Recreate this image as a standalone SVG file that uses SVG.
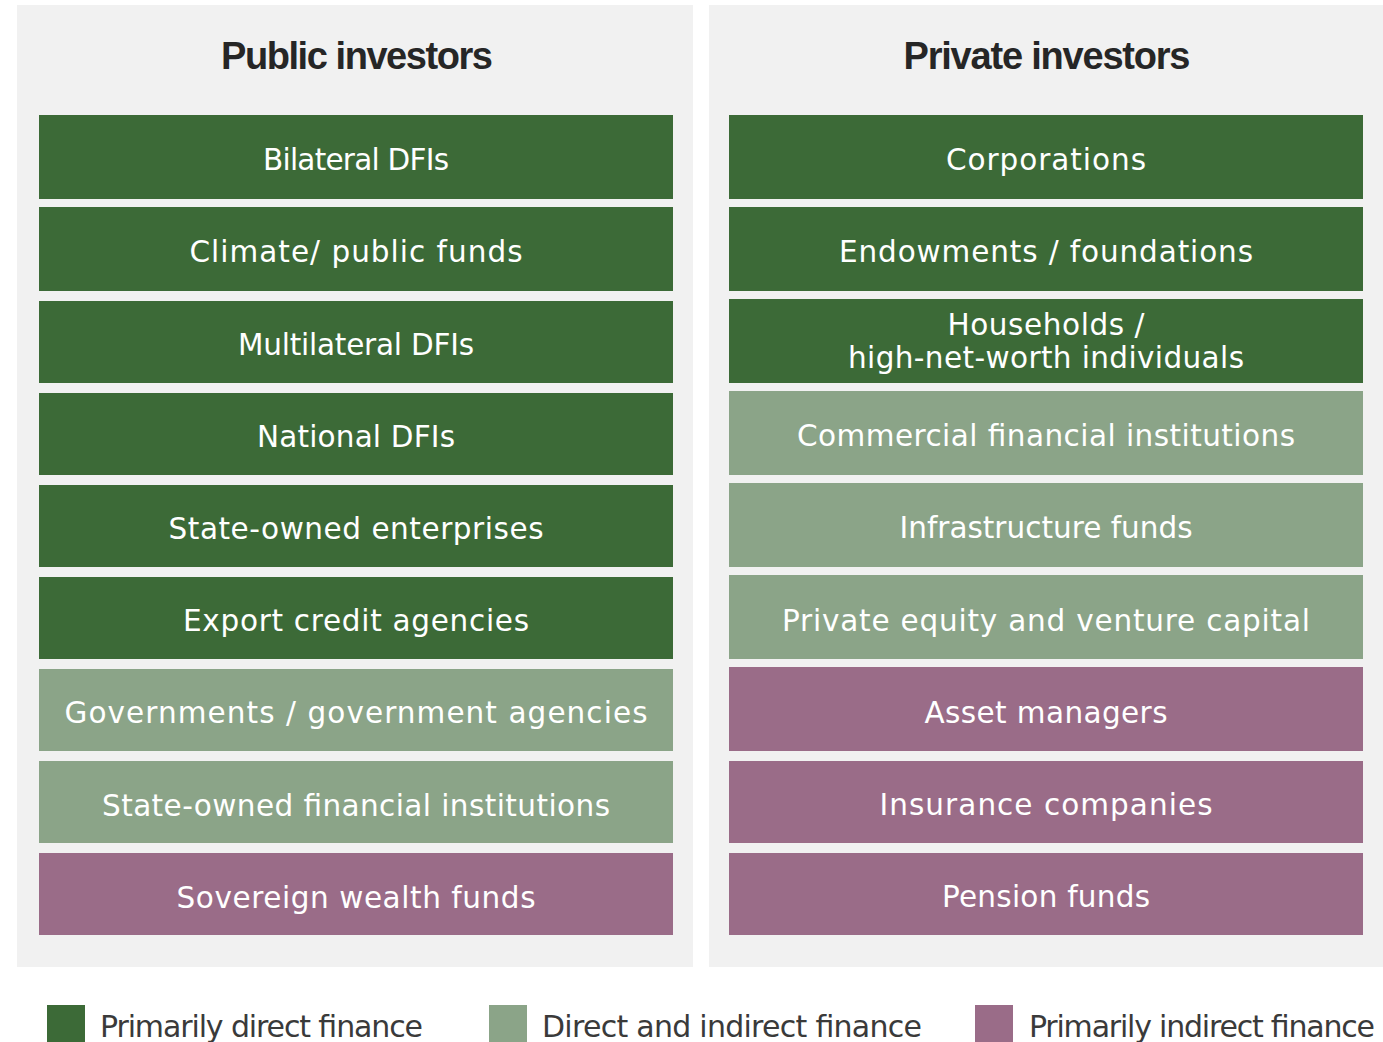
<svg xmlns="http://www.w3.org/2000/svg" width="1383" height="1042" viewBox="0 0 1383 1042">
<style>
.panel{fill:#f1f1f1}
.dg{fill:#3c6a37}
.lg{fill:#8ba488}
.mv{fill:#9a6c88}
.t{font-family:"DejaVu Sans",sans-serif;font-size:29.5px;fill:#ffffff;text-anchor:middle}
.h{font-family:"Liberation Sans",Arial,sans-serif;font-weight:bold;font-size:38px;fill:#262626;text-anchor:middle}
.lt{font-family:"DejaVu Sans",sans-serif;font-size:30px;fill:#3a3a3a}
</style>
<rect width="1383" height="1042" fill="#ffffff"/>
<g id="panel-public">
<rect class="panel" x="17" y="5" width="676" height="962"/>
<text class="h" x="357" y="69" textLength="272" lengthAdjust="spacing">Public investors</text>
</g>
<g id="panel-private">
<rect class="panel" x="709" y="5" width="674" height="962"/>
<text class="h" x="1047" y="69" textLength="287" lengthAdjust="spacing">Private investors</text>
</g>
<g id="connectors"></g>
<g id="n-bilateral"><rect class="dg" x="39" y="115" width="634" height="84"/><text class="t" x="356" y="170" textLength="186" lengthAdjust="spacing">Bilateral DFIs</text></g>
<g id="n-climate"><rect class="dg" x="39" y="207" width="634" height="84"/><text class="t" x="356" y="262" textLength="333" lengthAdjust="spacing">Climate/ public funds</text></g>
<g id="n-multilateral"><rect class="dg" x="39" y="301" width="634" height="82"/><text class="t" x="356" y="355" textLength="236" lengthAdjust="spacing">Multilateral DFIs</text></g>
<g id="n-national"><rect class="dg" x="39" y="393" width="634" height="82"/><text class="t" x="356" y="447" textLength="198" lengthAdjust="spacing">National DFIs</text></g>
<g id="n-soe"><rect class="dg" x="39" y="485" width="634" height="82"/><text class="t" x="356" y="539" textLength="375" lengthAdjust="spacing">State-owned enterprises</text></g>
<g id="n-eca"><rect class="dg" x="39" y="577" width="634" height="82"/><text class="t" x="356" y="631" textLength="346" lengthAdjust="spacing">Export credit agencies</text></g>
<g id="n-gov"><rect class="lg" x="39" y="669" width="634" height="82"/><text class="t" x="356" y="723" textLength="583" lengthAdjust="spacing">Governments / government agencies</text></g>
<g id="n-sofi"><rect class="lg" x="39" y="761" width="634" height="82"/><text class="t" x="356" y="816" textLength="508" lengthAdjust="spacing">State-owned financial institutions</text></g>
<g id="n-swf"><rect class="mv" x="39" y="853" width="634" height="82"/><text class="t" x="356" y="908" textLength="359" lengthAdjust="spacing">Sovereign wealth funds</text></g>
<g id="n-corp"><rect class="dg" x="729" y="115" width="634" height="84"/><text class="t" x="1046" y="170" textLength="200" lengthAdjust="spacing">Corporations</text></g>
<g id="n-endow"><rect class="dg" x="729" y="207" width="634" height="84"/><text class="t" x="1046" y="262" textLength="414" lengthAdjust="spacing">Endowments / foundations</text></g>
<g id="n-households"><rect class="dg" x="729" y="299" width="634" height="84"/><text class="t" x="1046" y="335" textLength="197" lengthAdjust="spacing">Households /</text><text class="t" x="1046" y="368" textLength="396" lengthAdjust="spacing">high-net-worth individuals</text></g>
<g id="n-cfi"><rect class="lg" x="729" y="391" width="634" height="84"/><text class="t" x="1046" y="446" textLength="498" lengthAdjust="spacing">Commercial financial institutions</text></g>
<g id="n-infra"><rect class="lg" x="729" y="483" width="634" height="84"/><text class="t" x="1046" y="538" textLength="293" lengthAdjust="spacing">Infrastructure funds</text></g>
<g id="n-pe"><rect class="lg" x="729" y="575" width="634" height="84"/><text class="t" x="1046" y="631" textLength="528" lengthAdjust="spacing">Private equity and venture capital</text></g>
<g id="n-asset"><rect class="mv" x="729" y="667" width="634" height="84"/><text class="t" x="1046" y="723" textLength="243" lengthAdjust="spacing">Asset managers</text></g>
<g id="n-insurance"><rect class="mv" x="729" y="761" width="634" height="82"/><text class="t" x="1046" y="815" textLength="333" lengthAdjust="spacing">Insurance companies</text></g>
<g id="n-pension"><rect class="mv" x="729" y="853" width="634" height="82"/><text class="t" x="1046" y="907" textLength="208" lengthAdjust="spacing">Pension funds</text></g>
<g id="legend">
<rect class="dg" x="47" y="1005" width="38" height="37"/>
<text class="lt" x="100" y="1037" textLength="323" lengthAdjust="spacing">Primarily direct finance</text>
<rect class="lg" x="489" y="1005" width="38" height="37"/>
<text class="lt" x="542" y="1037" textLength="380" lengthAdjust="spacing">Direct and indirect finance</text>
<rect class="mv" x="975" y="1005" width="38" height="37"/>
<text class="lt" x="1029" y="1037" textLength="346" lengthAdjust="spacing">Primarily indirect finance</text>
</g>
</svg>
